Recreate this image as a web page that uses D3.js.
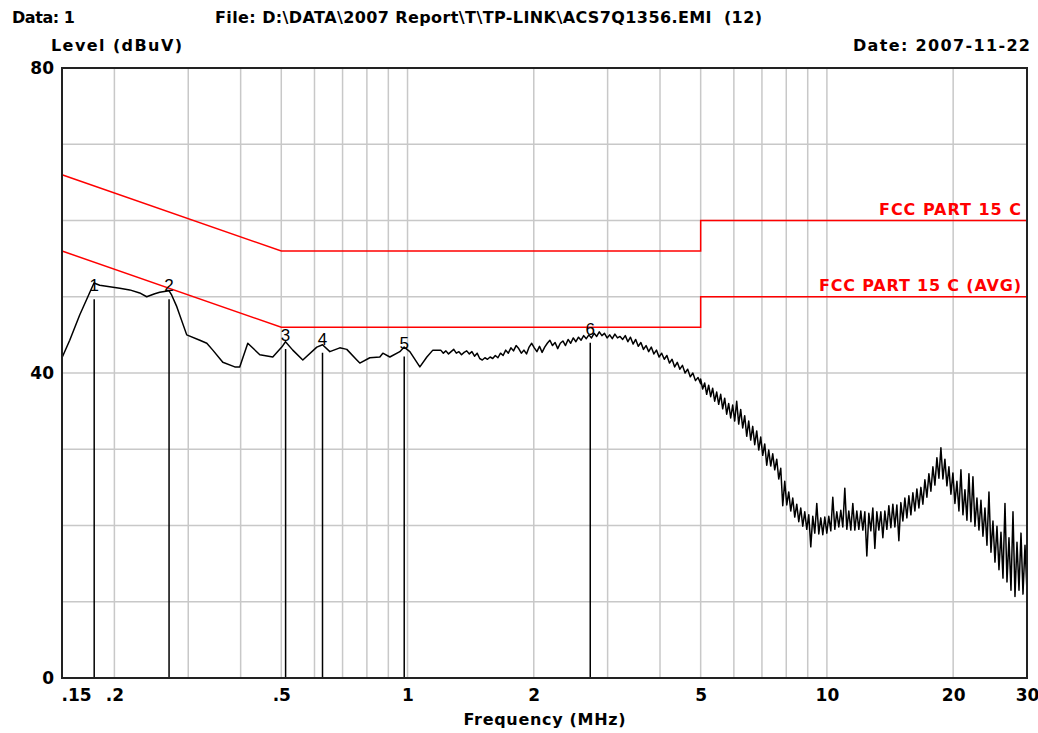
<!DOCTYPE html>
<html>
<head>
<meta charset="utf-8">
<script src="https://cdn.jsdelivr.net/npm/d3@7"></script>
<style>
  body { margin: 0; background: #fff; }
  svg { display: block; }
</style>
</head>
<body>
<svg id="chart" width="1038" height="733"></svg>
<script>
// axis ticks and grid
const xTickValues = [0.15, 0.2, 0.5, 1, 2, 5, 10, 20, 30];
const xTickLabels = ['.15', '.2', '.5', '1', '2', '5', '10', '20', '30'];
const xGridValues = [0.2, 0.3, 0.4, 0.5, 0.6, 0.7, 0.8, 0.9, 1, 2, 3, 4, 5, 6, 7, 8, 9, 10, 20];
const yTickValues = [0, 40, 80];
const yGridValues = [10, 20, 30, 40, 50, 60, 70];

// limit lines (MHz, dBuV)
const qpLimit = [[0.15, 66], [0.5, 56], [5, 56], [5, 60], [30, 60]];
const avgLimit = [[0.15, 56], [0.5, 46], [5, 46], [5, 50], [30, 50]];

// peak markers (MHz, dBuV)
const markerIds = ['1', '2', '3', '4', '5', '6'];
const markerFreqs = [0.179, 0.270, 0.512, 0.627, 0.982, 2.727];
const markerLevels = [51.5, 51.5, 45.0, 44.5, 44.0, 45.8];

// measured trace, 0.15 - 1.15 MHz
const traceLow = [
  [0.150, 42.0], [0.1565, 44.3], [0.1653, 47.6], [0.1788, 51.8], [0.1845, 51.5],
  [0.1949, 51.3], [0.2060, 51.1], [0.2176, 50.9], [0.2298, 50.5], [0.2388, 50.0],
  [0.2496, 50.4], [0.2565, 50.6], [0.2699, 50.8], [0.2740, 50.2], [0.2817, 48.7],
  [0.2975, 45.0], [0.3197, 44.3], [0.3322, 43.9], [0.3433, 43.0], [0.3627, 41.4],
  [0.3873, 40.8], [0.3980, 40.8], [0.4160, 43.9], [0.4444, 42.4], [0.4772, 42.1],
  [0.5014, 43.4], [0.5117, 44.1], [0.5326, 43.0], [0.5627, 41.7], [0.6077, 43.4],
  [0.6270, 43.7], [0.6528, 42.8], [0.6895, 43.3], [0.7165, 43.1], [0.7570, 41.7],
  [0.7695, 41.3], [0.8130, 42.0], [0.8589, 42.1], [0.8732, 42.6], [0.9075, 42.1],
  [0.9587, 42.8], [0.9816, 43.4], [1.0128, 42.8], [1.0700, 40.8], [1.1120, 42.1],
  [1.1492, 43.0]
];

// measured trace, 1.2 - 5 MHz sweep (log-spaced points)
const traceMidStart = 1.2;
const traceMidStop = 5;
const traceMid = [
  43.0, 42.6, 42.9, 42.5, 42.8, 43.1, 42.6, 42.8, 42.4, 42.7,
  42.9, 42.5, 42.8, 42.2, 42.6, 41.9, 41.7, 42.0, 41.8, 42.1,
  41.9, 42.3, 42.0, 42.6, 42.3, 43.0, 42.6, 43.3, 42.9, 43.6,
  43.2, 42.6, 43.0, 42.5, 43.4, 43.9, 43.3, 42.8, 43.5, 42.7,
  43.4, 43.9, 44.3, 43.6, 44.0, 43.2, 43.9, 44.2, 43.6, 44.4,
  43.9, 44.6, 44.1, 44.7, 44.3, 44.9, 44.5, 45.0, 44.6, 45.2,
  44.8, 45.4, 44.9, 45.2, 44.6, 45.0, 44.5, 45.1, 44.6, 44.8,
  44.4, 44.9, 44.1, 44.7, 43.8, 44.4, 43.5, 44.0, 43.1, 43.6,
  42.8, 43.4, 42.5, 43.0, 42.1, 42.6, 41.8, 42.3, 41.3, 41.8,
  40.8, 41.4, 40.5, 41.0, 40.0, 40.5, 39.5, 40.0, 39.0, 39.4, 38.6
];

// measured trace, 5 - 30 MHz sweep (log-spaced points)
const traceHighStart = 5;
const traceHighStop = 30;
const traceHigh = [
  39.2, 37.9, 38.7, 37.2, 38.4, 36.9, 38.0, 36.3, 37.5, 35.9,
  37.2, 35.3, 36.7, 34.6, 36.0, 34.1, 35.8, 33.7, 36.3, 33.3,
  35.2, 32.8, 34.4, 31.7, 33.7, 31.2, 33.0, 30.6, 32.4, 29.9,
  31.6, 29.2, 30.7, 27.9, 29.9, 27.8, 29.4, 27.3, 28.7, 26.1,
  27.5, 22.6, 25.8, 22.7, 24.4, 21.9, 23.6, 21.1, 22.8, 20.5,
  22.3, 19.9, 21.8, 19.5, 21.4, 17.2, 21.2, 19.0, 22.9, 18.9,
  21.0, 18.8, 21.1, 19.0, 21.2, 19.3, 23.7, 19.5, 21.8, 19.8,
  22.0, 19.8, 24.9, 19.5, 21.9, 19.4, 22.9, 19.4, 21.9, 19.5,
  21.9, 19.4, 21.8, 16.0, 21.6, 19.3, 22.3, 17.0, 21.8, 19.4,
  21.8, 18.4, 21.9, 19.5, 22.6, 19.7, 22.8, 19.8, 22.7, 18.0,
  23.0, 20.6, 23.6, 21.0, 23.9, 21.4, 24.3, 21.9, 24.8, 22.3,
  25.0, 22.8, 26.0, 23.7, 26.8, 24.5, 27.7, 25.3, 28.9, 26.2,
  30.2, 26.1, 28.7, 25.2, 27.7, 24.1, 26.9, 22.9, 25.8, 21.9,
  27.3, 21.4, 24.7, 20.7, 26.8, 20.5, 26.4, 19.9, 23.6, 19.4,
  23.3, 18.6, 22.3, 17.4, 24.4, 16.5, 20.6, 15.2, 19.9, 14.2,
  19.1, 13.1, 22.9, 12.6, 18.4, 11.5, 21.8, 10.7, 17.8, 11.5,
  19.0, 11.0, 17.4, 11.3
];

const width = 1038;
const height = 733;
const margin = { top: 68, right: 11, bottom: 55, left: 62 };

const svg = d3.select('#chart');

const x = d3.scaleLog()
  .domain([0.15, 30])
  .range([margin.left, width - margin.right]);

const y = d3.scaleLinear()
  .domain([0, 80])
  .range([height - margin.bottom, margin.top]);

// sweep points -> [freq, level]
const sweep = (start, stop, levels) => levels.map((v, i) =>
  [start * Math.pow(stop / start, i / (levels.length - 1)), v]);

const trace = traceLow
  .concat(sweep(traceMidStart, traceMidStop, traceMid))
  .concat(sweep(traceHighStart, traceHighStop, traceHigh));

const font = "'DejaVu Sans', Verdana, sans-serif";

// grid
svg.append('g')
  .selectAll('line')
  .data(xGridValues)
  .enter()
  .append('line')
  .attr('x1', d => x(d))
  .attr('x2', d => x(d))
  .attr('y1', y(80))
  .attr('y2', y(0))
  .attr('stroke', '#c8c8c8')
  .attr('stroke-width', 1.5);

svg.append('g')
  .selectAll('line')
  .data(yGridValues)
  .enter()
  .append('line')
  .attr('x1', x(0.15))
  .attr('x2', x(30))
  .attr('y1', d => y(d))
  .attr('y2', d => y(d))
  .attr('stroke', '#c8c8c8')
  .attr('stroke-width', 1.5);

// limit lines
const line = d3.line()
  .x(d => x(d[0]))
  .y(d => y(d[1]));

[qpLimit, avgLimit].forEach(lim => {
  svg.append('path')
    .datum(lim)
    .attr('fill', 'none')
    .attr('stroke', '#ff0000')
    .attr('stroke-width', 1.5)
    .attr('d', line);
});

// trace
svg.append('path')
  .datum(trace)
  .attr('fill', 'none')
  .attr('stroke', '#000')
  .attr('stroke-width', 1.5)
  .attr('stroke-linejoin', 'round')
  .attr('d', line);

// markers
const markers = markerIds.map((id, i) => ({ id, f: markerFreqs[i], level: markerLevels[i] }));

svg.append('g')
  .selectAll('line')
  .data(markers)
  .enter()
  .append('line')
  .attr('x1', d => x(d.f))
  .attr('x2', d => x(d.f))
  .attr('y1', d => y(d.level) + 14)
  .attr('y2', y(0))
  .attr('stroke', '#000')
  .attr('stroke-width', 1.5);

svg.append('g')
  .selectAll('text')
  .data(markers)
  .enter()
  .append('text')
  .attr('x', d => x(d.f))
  .attr('y', d => y(d.level) + 6)
  .attr('text-anchor', 'middle')
  .attr('font-family', "'Liberation Sans Narrow', 'Liberation Sans', Arial, sans-serif")
  .attr('font-size', 17)
  .attr('fill', '#000')
  .text(d => d.id);

// plot border
svg.append('rect')
  .attr('x', x(0.15))
  .attr('y', y(80))
  .attr('width', x(30) - x(0.15))
  .attr('height', y(0) - y(80))
  .attr('fill', 'none')
  .attr('stroke', '#222')
  .attr('stroke-width', 2);

// axes
const xAxis = svg.append('g')
  .attr('transform', `translate(0,${y(0)})`)
  .call(d3.axisBottom(x)
    .tickValues(xTickValues)
    .tickFormat((d, i) => xTickLabels[i])
    .tickSize(0)
    .tickPadding(11));

xAxis.select('.domain').remove();
xAxis.selectAll('text')
  .attr('font-family', font)
  .attr('font-weight', 'bold')
  .attr('font-size', 17)
  .attr('fill', '#000');
xAxis.selectAll('.tick').filter(d => d === 0.15).select('text')
  .attr('text-anchor', 'start')
  .attr('x', -1);

const yAxis = svg.append('g')
  .attr('transform', `translate(${x(0.15)},0)`)
  .call(d3.axisLeft(y)
    .tickValues(yTickValues)
    .tickFormat(d3.format('d'))
    .tickSize(0)
    .tickPadding(8));

yAxis.select('.domain').remove();
yAxis.selectAll('text')
  .attr('font-family', font)
  .attr('font-weight', 'bold')
  .attr('font-size', 17)
  .attr('fill', '#000');

// header texts
const label = (txt, px, py, len, anchor, color) => svg.append('text')
  .attr('x', px)
  .attr('y', py)
  .attr('text-anchor', anchor || 'start')
  .attr('font-family', font)
  .attr('font-weight', 'bold')
  .attr('font-size', 16)
  .attr('fill', color || '#000')
  .attr('textLength', len)
  .attr('lengthAdjust', 'spacing')
  .text(txt);

label('Data: 1', 12, 23, 63);
label('File: D:\\DATA\\2007 Report\\T\\TP-LINK\\ACS7Q1356.EMI\u00a0\u00a0(12)', 215, 23, 547);
label('Level (dBuV)', 51, 51, 131);
label('Date: 2007-11-22', 1030, 51, 177, 'end');
label('Frequency (MHz)', (x(0.15) + x(30)) / 2, 725, 162, 'middle');

label('FCC PART 15 C', 1021, 215, 142, 'end', '#ff0000');
label('FCC PART 15 C (AVG)', 1021, 291, 202, 'end', '#ff0000');
</script>
</body>
</html>
